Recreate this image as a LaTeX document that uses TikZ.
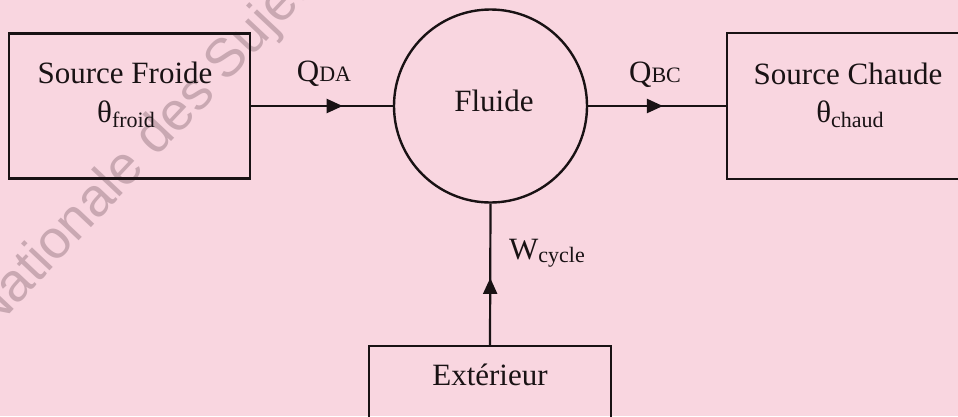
\documentclass[tikz,border=0pt]{standalone}
\usepackage{fontspec}
\setmainfont{Liberation Serif}
\newfontfamily\wmfont{Liberation Sans}
\usetikzlibrary{arrows.meta,decorations.markings}
\definecolor{bgpink}{RGB}{249,214,224}
\definecolor{wmgray}{RGB}{201,168,178}
\definecolor{ink}{RGB}{25,18,20}
\newcommand\smallsub[2][0pt]{\raisebox{#1}{\fontsize{22}{22}\selectfont #2}}
\tikzset{
  boxnode/.style={draw=ink, line width=2.4pt, rectangle, inner sep=0pt},
  circnode/.style={draw=ink, line width=2.4pt, circle, inner sep=0pt, minimum size=193pt},
  txt/.style={font=\fontsize{31}{37}\selectfont, text=ink, inner sep=0pt, anchor=base},
  flow/.style={draw=ink, line width=2.2pt, postaction={decorate},
    decoration={markings, mark=at position #1 with {\arrow{Triangle[length=16pt,width=14pt]}}}}
}
\begin{document}
\begin{tikzpicture}[x=1pt,y=-1pt]
\fill[bgpink] (0,0) rectangle (958,416);
\useasboundingbox (0,0) rectangle (958,416);
% watermark
\node[anchor=base west, rotate=46.7, inner sep=0pt, text=wmgray,
      font=\wmfont\fontsize{54}{54}\selectfont] (wm) at (-10,335) {Nationale des Sujets};
% boxes
\node[boxnode, minimum width=241pt, minimum height=145pt] (sf) at (129.5,106) {};
\node[boxnode, minimum width=242pt, minimum height=146pt] (sc) at (848,106) {};
\node[circnode] (fl) at (490.5,106) {};
\node[boxnode, minimum width=242pt, minimum height=140pt] (ext) at (490,416) {};
% texts
\node[txt] (sft1) at (125,83) {Source Froide};
\node[txt] (sft2) at (126,122) {θ\smallsub[-5pt]{froid}};
\node[txt] (sct1) at (848,84) {Source Chaude};
\node[txt] (sct2) at (850,122) {θ\smallsub[-5pt]{chaud}};
\node[txt] (flt) at (494,111) {Fluide};
\node[txt] (extt) at (490,385) {Extérieur};
\node[txt] (qda) at (324,81) {Q\smallsub{DA}};
\node[txt] (qbc) at (655,82) {Q\smallsub{BC}};
\node[txt] (wc) at (547,259) {W\smallsub[-3pt]{cycle}};
% connectors
\draw[flow=0.646] (sf.east) -- (fl.west);
\draw[flow=0.543] (fl.east) -- (sc.west);
\draw[flow=0.474] (ext.north) -- (fl.south);
\end{tikzpicture}
\end{document}
